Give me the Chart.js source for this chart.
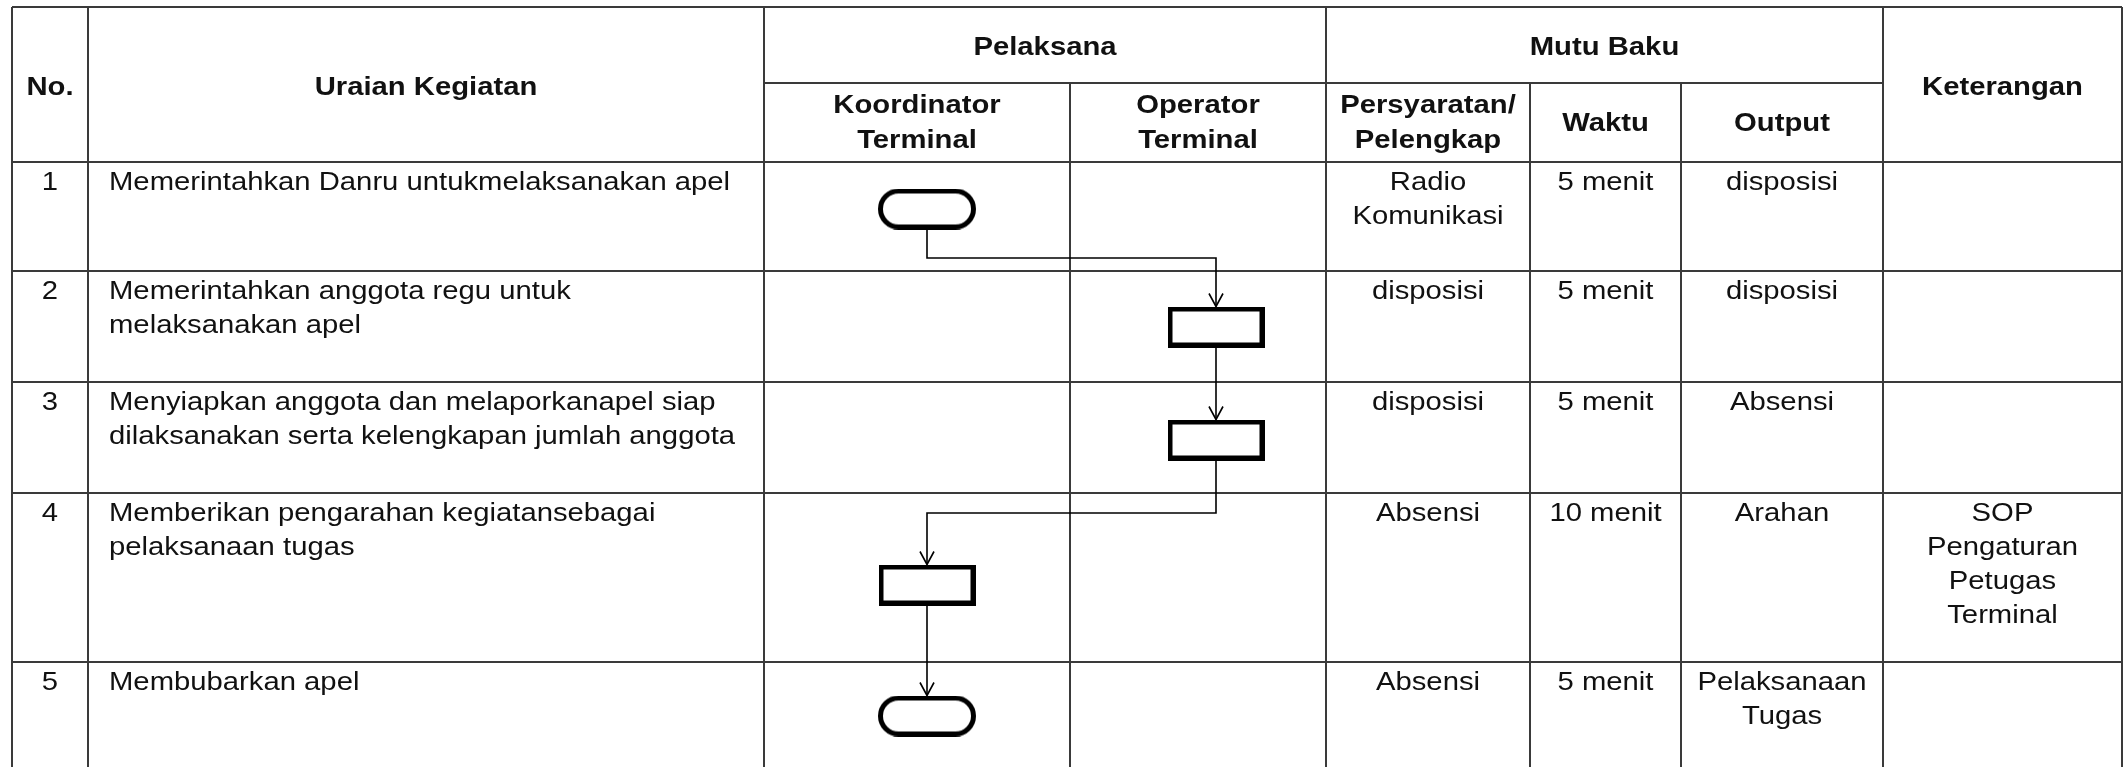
<!DOCTYPE html>
<html>
<head>
<meta charset="utf-8">
<script src="https://cdn.jsdelivr.net/npm/chart.js@4.4.1/dist/chart.umd.min.js"></script>
<style>
  html, body { margin: 0; padding: 0; background: #ffffff; }
  #wrap { width: 2125px; height: 767px; }
</style>
</head>
<body>
<div id="wrap"><canvas id="c" width="2125" height="767"></canvas></div>
<script>
// ---------------- DATA ----------------
const steps = ['1', '2', '3', '4', '5'];
const activities = [
  ['Memerintahkan Danru untukmelaksanakan apel'],
  ['Memerintahkan anggota regu untuk', 'melaksanakan apel'],
  ['Menyiapkan anggota dan melaporkanapel siap', 'dilaksanakan serta kelengkapan jumlah anggota'],
  ['Memberikan pengarahan kegiatansebagai', 'pelaksanaan tugas'],
  ['Membubarkan apel']
];
const executors = ['Koordinator Terminal', 'Operator Terminal'];
const stepExecutor = [0, 1, 1, 0, 0];
const stepShape = ['terminator', 'process', 'process', 'process', 'terminator'];
const requirements = [['Radio', 'Komunikasi'], ['disposisi'], ['disposisi'], ['Absensi'], ['Absensi']];
const durations = ['5 menit', '5 menit', '5 menit', '10 menit', '5 menit'];
const outputs = [['disposisi'], ['disposisi'], ['Absensi'], ['Arahan'], ['Pelaksanaan', 'Tugas']];
const remarks = [[], [], [], ['SOP', 'Pengaturan', 'Petugas', 'Terminal'], []];
const headerTop = { no: 'No.', activity: 'Uraian Kegiatan', executors: 'Pelaksana', quality: 'Mutu Baku', remarks: 'Keterangan' };
const headerSub = [['Koordinator', 'Terminal'], ['Operator', 'Terminal'], ['Persyaratan/', 'Pelengkap'], ['Waktu'], ['Output']];

// ---------------- LAYOUT (table units) ----------------
const layout = {
  colEdges: [12, 88, 764, 1070, 1326, 1530, 1681, 1883, 2122],
  top: 7, subHead: 83, headBottom: 162,
  rowEdges: [162, 271, 382, 493, 662, 767],
  laneShapeX: [927, 1216],
  nodeOffset: [47, 56, 58, 92, 54],
  elbowY: [258, null, 513, null],
  shapeH: 41,
  firstBaseline: 28, lineGap: 34, textIndent: 21,
  fontSize: 25, stretch: 1.17
};
const FONT = '"Liberation Sans", Arial, "Helvetica", sans-serif';

// ---------------- SHAPES as point styles ----------------
function makeShape(kind) {
  const w = kind === 'terminator' ? 98 : 97, h = layout.shapeH, lw = 5;
  const cv = document.createElement('canvas');
  cv.width = w; cv.height = h;
  const g = cv.getContext('2d');
  g.lineWidth = lw; g.strokeStyle = '#000';
  g.fillStyle = '#fff';
  const i = lw / 2;
  g.beginPath();
  if (kind === 'terminator') {
    const r = (h - lw) / 2;
    g.moveTo(i + r, i);
    g.lineTo(w - i - r, i);
    g.arc(w - i - r, h / 2, r, -Math.PI / 2, Math.PI / 2);
    g.lineTo(i + r, h - i);
    g.arc(i + r, h / 2, r, Math.PI / 2, Math.PI * 1.5);
    g.closePath();
  } else {
    g.rect(i, i, w - lw, h - lw);
  }
  g.fill();
  g.stroke();
  return cv;
}
const shapeImgs = { terminator: makeShape('terminator'), process: makeShape('process') };

const nodes = steps.map((s, i) => ({
  x: layout.laneShapeX[stepExecutor[i]],
  y: layout.rowEdges[i] + layout.nodeOffset[i]
}));

const connectors = [];
for (let i = 0; i < nodes.length - 1; i++) {
  const a = nodes[i], b = nodes[i + 1], hh = layout.shapeH / 2;
  const pts = [{ x: a.x, y: a.y + hh }];
  if (a.x !== b.x) {
    const ey = layout.elbowY[i] != null ? layout.elbowY[i] : (a.y + b.y) / 2;
    pts.push({ x: a.x, y: ey }, { x: b.x, y: ey });
  }
  pts.push({ x: b.x, y: b.y - hh });
  connectors.push(pts);
}

// ---------------- PLUGIN: table & text ----------------
function txt(ctx, s, x, y, align, bold) {
  ctx.save();
  ctx.font = (bold ? 'bold ' : '') + layout.fontSize + 'px ' + FONT;
  ctx.fillStyle = '#111';
  ctx.textBaseline = 'alphabetic';
  ctx.translate(x, y);
  ctx.scale(layout.stretch, 1);
  ctx.textAlign = align;
  ctx.fillText(s, 0, 0);
  ctx.restore();
}

const tablePlugin = {
  id: 'sopTable',
  beforeDatasetsDraw(chart) {
    const ctx = chart.ctx, X = v => chart.scales.x.getPixelForValue(v), Y = v => chart.scales.y.getPixelForValue(v);
    const c = layout.colEdges, r = layout.rowEdges;
    const bottom = r[r.length - 1];
    ctx.save();
    ctx.strokeStyle = '#3a3a3a';
    ctx.lineWidth = 2;
    const line = (x1, y1, x2, y2) => { ctx.beginPath(); ctx.moveTo(X(x1), Y(y1)); ctx.lineTo(X(x2), Y(y2)); ctx.stroke(); };
    line(c[0], layout.top, c[8], layout.top);
    line(c[2], layout.subHead, c[7], layout.subHead);
    r.slice(0, -1).forEach(y => line(c[0], y, c[8], y));
    [0, 1, 2, 4, 7, 8].forEach(k => line(c[k], layout.top, c[k], bottom));
    [3, 5, 6].forEach(k => line(c[k], layout.subHead, c[k], bottom));
    ctx.restore();

    const mid = (a, b) => X((a + b) / 2);
    const hb = layout.headBottom;
    txt(ctx, headerTop.no, mid(c[0], c[1]), Y(95), 'center', true);
    txt(ctx, headerTop.activity, mid(c[1], c[2]), Y(95), 'center', true);
    txt(ctx, headerTop.executors, mid(c[2], c[4]), Y(55), 'center', true);
    txt(ctx, headerTop.quality, mid(c[4], c[7]), Y(55), 'center', true);
    txt(ctx, headerTop.remarks, mid(c[7], c[8]), Y(95), 'center', true);
    headerSub.forEach((lines, k) => {
      const cx = mid(c[2 + k], c[3 + k]);
      const center = (layout.subHead + hb) / 2 + 8;
      const start = center - (lines.length - 1) * 35 / 2;
      lines.forEach((s, j) => txt(ctx, s, cx, Y(start + j * 35), 'center', true));
    });
    steps.forEach((s, i) => {
      const b0 = r[i] + layout.firstBaseline, g = layout.lineGap;
      txt(ctx, s, mid(c[0], c[1]), Y(b0), 'center', false);
      activities[i].forEach((l, j) => txt(ctx, l, X(c[1] + layout.textIndent), Y(b0 + j * g), 'left', false));
      requirements[i].forEach((l, j) => txt(ctx, l, mid(c[4], c[5]), Y(b0 + j * g), 'center', false));
      txt(ctx, durations[i], mid(c[5], c[6]), Y(b0), 'center', false);
      outputs[i].forEach((l, j) => txt(ctx, l, mid(c[6], c[7]), Y(b0 + j * g), 'center', false));
      remarks[i].forEach((l, j) => txt(ctx, l, mid(c[7], c[8]), Y(b0 + j * g), 'center', false));
    });
  },
  afterDatasetsDraw(chart) {
    const ctx = chart.ctx;
    chart.data.datasets.forEach((ds, di) => {
      if (!ds.isConnector) return;
      const pts = chart.getDatasetMeta(di).data;
      const tip = pts[pts.length - 1];
      ctx.save();
      ctx.strokeStyle = '#000';
      ctx.lineWidth = 1.6;
      ctx.beginPath();
      ctx.moveTo(tip.x - 7, tip.y - 13);
      ctx.lineTo(tip.x, tip.y);
      ctx.lineTo(tip.x + 7, tip.y - 13);
      ctx.stroke();
      ctx.restore();
    });
  }
};

const datasets = connectors.map(pts => ({
  type: 'scatter', data: pts, showLine: true, isConnector: true,
  borderColor: '#000', borderWidth: 1.6, pointRadius: 0, fill: false, tension: 0, order: 2
}));
datasets.push({
  type: 'scatter', data: nodes, order: 1,
  pointStyle: stepShape.map(k => shapeImgs[k]),
  pointRadius: 20, pointHoverRadius: 20
});

new Chart(document.getElementById('c'), {
  type: 'scatter',
  data: { datasets },
  options: {
    responsive: false, animation: false, events: [],
    layout: { padding: 0, autoPadding: false },
    plugins: { legend: { display: false }, tooltip: { enabled: false } },
    scales: {
      x: { type: 'linear', min: 0, max: 2125, display: false },
      y: { type: 'linear', min: 0, max: 767, reverse: true, display: false }
    }
  },
  plugins: [tablePlugin]
});
</script>
</body>
</html>
